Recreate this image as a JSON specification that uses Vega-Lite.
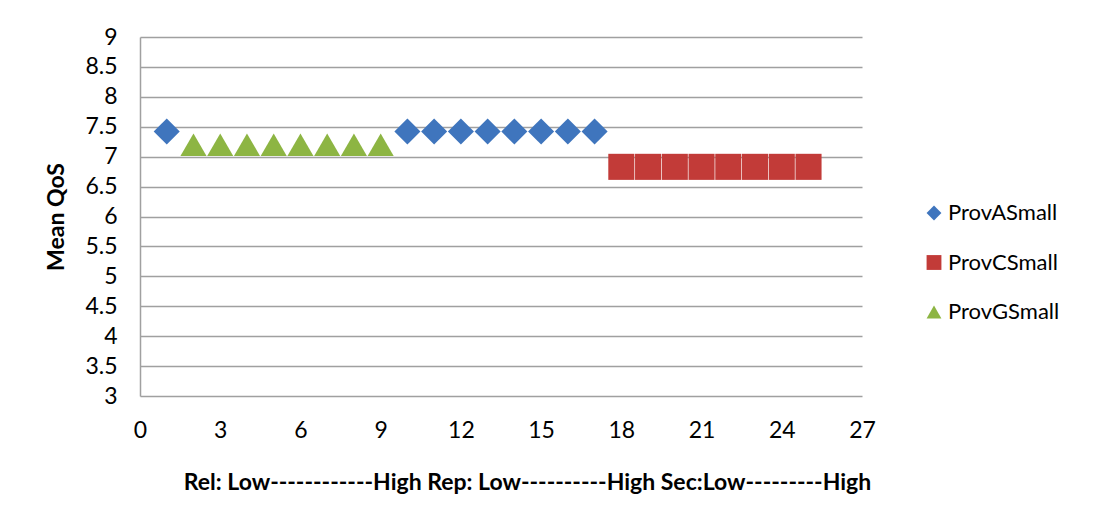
{
  "$schema": "https://vega.github.io/schema/vega-lite/v6.json",
  "width": 722,
  "height": 359,
  "autosize": {"type": "none"},
  "padding": {"left": 140, "top": 37, "right": 233, "bottom": 116},
  "background": "white",
  "config": {
    "font": "Lato",
    "view": {"stroke": null},
    "axis": {
      "labelFont": "Lato",
      "labelFontSize": 23,
      "labelColor": "#000000",
      "labelFlush": false,
      "titleFont": "Lato",
      "titleFontSize": 23,
      "titleFontWeight": "bold",
      "titleColor": "#000000"
    },
    "legend": {
      "labelFont": "Lato",
      "labelFontSize": 22,
      "labelColor": "#000000"
    }
  },
  "data": {
    "values": [
      {"series": "ProvASmall", "x": 1, "qos": 7.42},
      {"series": "ProvGSmall", "x": 2, "qos": 7.2},
      {"series": "ProvGSmall", "x": 3, "qos": 7.2},
      {"series": "ProvGSmall", "x": 4, "qos": 7.2},
      {"series": "ProvGSmall", "x": 5, "qos": 7.2},
      {"series": "ProvGSmall", "x": 6, "qos": 7.2},
      {"series": "ProvGSmall", "x": 7, "qos": 7.2},
      {"series": "ProvGSmall", "x": 8, "qos": 7.2},
      {"series": "ProvGSmall", "x": 9, "qos": 7.2},
      {"series": "ProvASmall", "x": 10, "qos": 7.42},
      {"series": "ProvASmall", "x": 11, "qos": 7.42},
      {"series": "ProvASmall", "x": 12, "qos": 7.42},
      {"series": "ProvASmall", "x": 13, "qos": 7.42},
      {"series": "ProvASmall", "x": 14, "qos": 7.42},
      {"series": "ProvASmall", "x": 15, "qos": 7.42},
      {"series": "ProvASmall", "x": 16, "qos": 7.42},
      {"series": "ProvASmall", "x": 17, "qos": 7.42},
      {"series": "ProvCSmall", "x": 18, "qos": 6.83},
      {"series": "ProvCSmall", "x": 19, "qos": 6.83},
      {"series": "ProvCSmall", "x": 20, "qos": 6.83},
      {"series": "ProvCSmall", "x": 21, "qos": 6.83},
      {"series": "ProvCSmall", "x": 22, "qos": 6.83},
      {"series": "ProvCSmall", "x": 23, "qos": 6.83},
      {"series": "ProvCSmall", "x": 24, "qos": 6.83},
      {"series": "ProvCSmall", "x": 25, "qos": 6.83}
    ]
  },
  "mark": {"type": "point", "filled": true, "size": 680, "opacity": 1},
  "encoding": {
    "x": {
      "field": "x",
      "type": "quantitative",
      "scale": {"domain": [0, 27], "nice": false, "zero": false},
      "axis": {
        "values": [0, 3, 6, 9, 12, 15, 18, 21, 24, 27],
        "format": "~g",
        "grid": false,
        "domain": false,
        "ticks": false,
        "labelPadding": 23,
        "title": "Rel: Low------------High Rep: Low----------High Sec:Low---------High",
        "titlePadding": 29,
        "titleX": 387
      }
    },
    "y": {
      "field": "qos",
      "type": "quantitative",
      "scale": {"domain": [3, 9], "nice": false, "zero": false},
      "axis": {
        "values": [3, 3.5, 4, 4.5, 5, 5.5, 6, 6.5, 7, 7.5, 8, 8.5, 9],
        "format": "~g",
        "grid": true,
        "gridColor": "#a0a0a0",
        "gridWidth": 1.5,
        "domain": true,
        "domainColor": "#a0a0a0",
        "domainWidth": 1.5,
        "ticks": false,
        "labelPadding": 23,
        "title": "Mean QoS",
        "titlePadding": 16
      }
    },
    "shape": {
      "field": "series",
      "type": "nominal",
      "scale": {
        "domain": ["ProvASmall", "ProvCSmall", "ProvGSmall"],
        "range": ["diamond", "square", "triangle-up"]
      },
      "legend": {
        "title": null,
        "orient": "none",
        "legendX": 783,
        "legendY": 165,
        "symbolSize": 220,
        "symbolStrokeWidth": 0,
        "rowPadding": 27.5,
        "labelOffset": 3
      }
    },
    "color": {
      "field": "series",
      "type": "nominal",
      "scale": {
        "domain": ["ProvASmall", "ProvCSmall", "ProvGSmall"],
        "range": ["#3f75bd", "#c23b38", "#8db543"]
      },
      "legend": {
        "title": null,
        "orient": "none",
        "legendX": 783,
        "legendY": 165,
        "symbolSize": 220,
        "symbolStrokeWidth": 0,
        "rowPadding": 27.5,
        "labelOffset": 3
      }
    }
  }
}
